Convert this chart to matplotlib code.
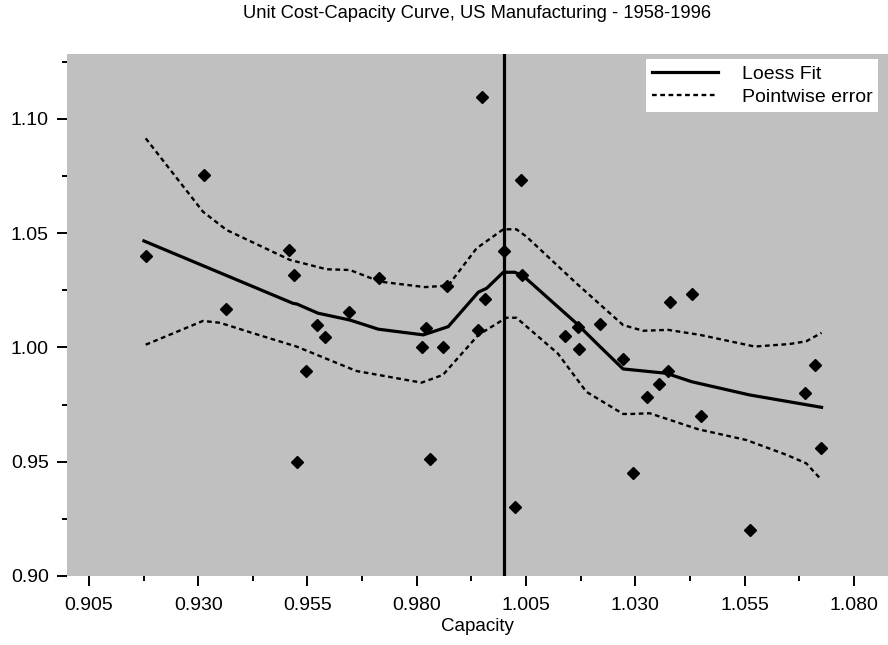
import numpy as np
import matplotlib
matplotlib.use("Agg")
import matplotlib.pyplot as plt
from matplotlib.ticker import FixedLocator, FormatStrFormatter

plt.rcParams['font.family'] = ['Liberation Sans', 'DejaVu Sans']

# donnees (capacite, cout unitaire)
cap = [0.9180, 0.9313, 0.9363, 0.9507, 0.9519, 0.9573, 0.9591, 0.9645, 0.9546, 0.9526,
       0.9714, 0.9822, 0.9813, 0.9860, 0.9830, 0.9870, 0.9950, 0.9956, 0.9941, 0.9999,
       1.0038, 1.0041, 1.0024, 1.0140, 1.0169, 1.0220, 1.0171, 1.0271, 1.0294, 1.0326,
       1.0354, 1.0375, 1.0380, 1.0429, 1.0450, 1.0562, 1.0688, 1.0712, 1.0724]
cout = [1.0400, 1.0754, 1.0170, 1.0427, 1.0316, 1.0098, 1.0047, 1.0154, 0.9898, 0.9500,
        1.0306, 1.0084, 1.0000, 1.0000, 0.9511, 1.0271, 1.1098, 1.0211, 1.0078, 1.0424,
        1.0733, 1.0316, 0.9301, 1.0050, 1.0088, 1.0101, 0.9992, 0.9950, 0.9451, 0.9782,
        0.9839, 0.9898, 1.0200, 1.0233, 0.9702, 0.9201, 0.9802, 0.9925, 0.9559]

# courbe loess
fit_x = [0.9176, 0.9517, 0.9526, 0.9574, 0.9647, 0.9712, 0.9815, 0.9872, 0.9941, 0.9960,
         0.9998, 1.0024, 1.0043, 1.0165, 1.0219, 1.0272, 1.0371, 1.0429, 1.0562, 1.0726]
fit_y = [1.0466, 1.0193, 1.0190, 1.0150, 1.0120, 1.0080, 1.0055, 1.0091, 1.0242, 1.0259,
         1.0329, 1.0329, 1.0314, 1.0106, 1.0004, 0.9906, 0.9887, 0.9850, 0.9792, 0.9738]

# bandes d'erreur
haut_x = [0.9180, 0.9311, 0.9365, 0.9510, 0.9594, 0.9647, 0.9716, 0.9819, 0.9872, 0.9937,
          0.9998, 1.0028, 1.0051, 1.0165, 1.0272, 1.0318, 1.0375, 1.0448, 1.0573, 1.0653,
          1.0691, 1.0726]
haut_y = [1.0915, 1.0594, 1.0514, 1.0383, 1.0342, 1.0339, 1.0288, 1.0264, 1.0271, 1.0434,
          1.0517, 1.0517, 1.0485, 1.0281, 1.0098, 1.0073, 1.0077, 1.0055, 1.0004, 1.0015,
          1.0027, 1.0064]
bas_x = [0.9180, 0.9311, 0.9350, 0.9426, 0.9525, 0.9662, 0.9811, 0.9860, 0.9941, 1.0005,
         1.0028, 1.0123, 1.0188, 1.0272, 1.0291, 1.0333, 1.0444, 1.0554, 1.0646, 1.0691,
         1.0726]
bas_y = [1.0012, 1.0116, 1.0108, 1.0062, 1.0004, 0.9897, 0.9846, 0.9880, 1.0055, 1.0130,
         1.0130, 0.9973, 0.9806, 0.9709, 0.9709, 0.9712, 0.9642, 0.9595, 0.9530, 0.9493,
         0.9420]

ligne_ref = 1.0
x_ticks = [0.905, 0.930, 0.955, 0.980, 1.005, 1.030, 1.055, 1.080]
y_ticks = [0.90, 0.95, 1.00, 1.05, 1.10]

fig = plt.figure(figsize=(8.88, 6.45), dpi=100)
ax = fig.add_axes([67 / 888, 69 / 645, 821 / 888, 522 / 645])
ax.set_facecolor('#c0c0c0')
for s in ax.spines.values():
    s.set_visible(False)

motif = (0, (2.0, 1.5))
ax.plot(fit_x, fit_y, color='black', lw=2.3, label='Loess Fit', zorder=3)
ax.plot(haut_x, haut_y, color='black', lw=1.7, ls=motif, label='Pointwise error', zorder=3)
ax.plot(bas_x, bas_y, color='black', lw=1.7, ls=motif, zorder=3)
ax.plot(cap, cout, ls='none', marker='D', ms=6.5, color='black', zorder=4)
ax.axvline(ligne_ref, color='black', lw=2.3, zorder=5)

ax.set_xlim(0.900, 1.0878)
ax.set_ylim(0.900, 1.1284)

ax.xaxis.set_major_locator(FixedLocator(x_ticks))
ax.xaxis.set_minor_locator(FixedLocator([t + 0.0125 for t in x_ticks[:-1]]))
ax.yaxis.set_major_locator(FixedLocator(y_ticks))
ax.yaxis.set_minor_locator(FixedLocator([t + 0.025 for t in y_ticks]))
ax.xaxis.set_major_formatter(FormatStrFormatter('%.3f'))
ax.yaxis.set_major_formatter(FormatStrFormatter('%.2f'))
ax.tick_params(which='major', length=7.2, width=1.4, labelsize=14)
ax.tick_params(axis='x', which='major', pad=8)
ax.tick_params(axis='y', which='major', pad=6)
ax.tick_params(which='minor', length=3.6, width=1.4)

ax.set_xlabel('Capacity', fontsize=13.5, labelpad=3)
fig.text(477 / 888, 1 - 14 / 645, 'Unit Cost-Capacity Curve, US Manufacturing - 1958-1996',
         ha='center', va='center', fontsize=13.2)

leg = ax.legend(loc='upper right', bbox_to_anchor=(0.988, 0.990), borderaxespad=0,
                fontsize=14, frameon=True, fancybox=False, framealpha=1,
                handlelength=3.4, handletextpad=1.2, labelspacing=0.3,
                borderpad=0.3)
leg.get_frame().set_edgecolor('none')
leg.get_frame().set_facecolor('white')

fig.savefig('out.png', dpi=100)
